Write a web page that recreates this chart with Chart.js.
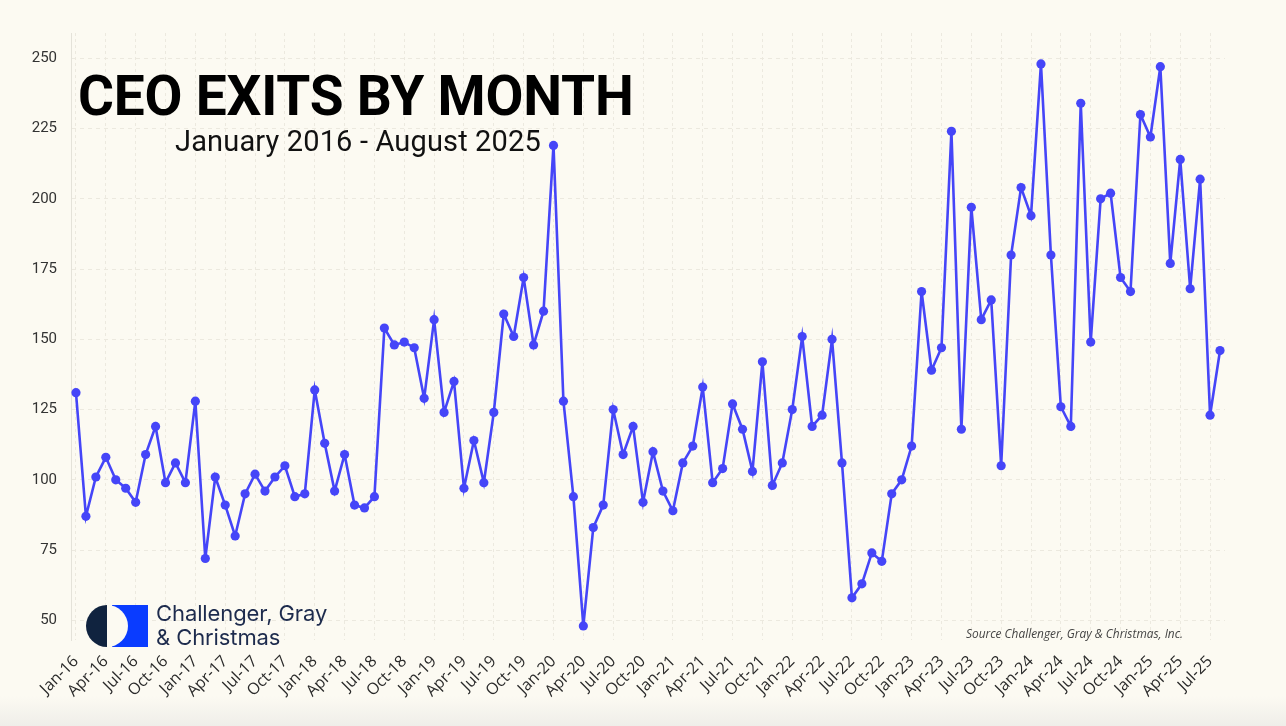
<!DOCTYPE html>
<html>
<head>
<meta charset="utf-8">
<script src="https://cdn.jsdelivr.net/npm/chart.js@4.4.1/dist/chart.umd.min.js"></script>
<style>
  html, body { margin:0; padding:0; }
  body {
    width:1286px; height:726px; overflow:hidden; position:relative;
    background: linear-gradient(to bottom, #FCFAF2 0px, #FCFAF2 696px, #EFEEE9 726px);
    font-family: Roboto, sans-serif;
  }
  #wrap { position:absolute; left:0; top:0; width:1286px; height:726px; }
  .title { position:absolute; left:78px; top:69px; font: 700 55px Roboto; line-height:55px; color:#000; white-space:nowrap; letter-spacing:-0.2px; }
  .subtitle { position:absolute; left:175px; top:127px; font: 400 29px Roboto; line-height:29px; color:#111; white-space:nowrap; letter-spacing:0.15px; }
  .source { position:absolute; left:966px; top:627px; font: italic 400 12px "Open Sans"; line-height:14px; color:#444; white-space:nowrap; transform:scaleX(0.99); transform-origin:left center; }
  .logo { position:absolute; left:86px; top:605px; }
  .logotext { position:absolute; left:156px; top:601px; font: 400 22px Inter; line-height:24px; color:#1D2B4D; white-space:nowrap; letter-spacing:-0.1px; }
</style>
</head>
<body>
<div id="wrap"><canvas id="c"></canvas></div>
<div class="title">CEO EXITS BY MONTH</div>
<div class="subtitle">January 2016 - August 2025</div>
<svg class="logo" width="63" height="42" viewBox="0 0 63 42">
  <rect x="26" y="0" width="36" height="42" fill="#0A3CFF"/>
  <path d="M21,0 A21,21 0 0,1 21,42 Z" fill="#FCFAF2"/>
  <path d="M21,0 A21,21 0 0,0 21,42 Z" fill="#10233F"/>
</svg>
<div class="logotext">Challenger, Gray<br>&amp; Christmas</div>
<div class="source">Source Challenger, Gray &amp; Christmas, Inc.</div>
<script>
const categories = [
  "Jan-16","Feb-16","Mar-16","Apr-16","May-16","Jun-16","Jul-16","Aug-16","Sep-16","Oct-16","Nov-16","Dec-16",
  "Jan-17","Feb-17","Mar-17","Apr-17","May-17","Jun-17","Jul-17","Aug-17","Sep-17","Oct-17","Nov-17","Dec-17",
  "Jan-18","Feb-18","Mar-18","Apr-18","May-18","Jun-18","Jul-18","Aug-18","Sep-18","Oct-18","Nov-18","Dec-18",
  "Jan-19","Feb-19","Mar-19","Apr-19","May-19","Jun-19","Jul-19","Aug-19","Sep-19","Oct-19","Nov-19","Dec-19",
  "Jan-20","Feb-20","Mar-20","Apr-20","May-20","Jun-20","Jul-20","Aug-20","Sep-20","Oct-20","Nov-20","Dec-20",
  "Jan-21","Feb-21","Mar-21","Apr-21","May-21","Jun-21","Jul-21","Aug-21","Sep-21","Oct-21","Nov-21","Dec-21",
  "Jan-22","Feb-22","Mar-22","Apr-22","May-22","Jun-22","Jul-22","Aug-22","Sep-22","Oct-22","Nov-22","Dec-22",
  "Jan-23","Feb-23","Mar-23","Apr-23","May-23","Jun-23","Jul-23","Aug-23","Sep-23","Oct-23","Nov-23","Dec-23",
  "Jan-24","Feb-24","Mar-24","Apr-24","May-24","Jun-24","Jul-24","Aug-24","Sep-24","Oct-24","Nov-24","Dec-24",
  "Jan-25","Feb-25","Mar-25","Apr-25","May-25","Jun-25","Jul-25","Aug-25"
];
const ceoExits = [
  131, 87,101,108,100, 97, 92,109,119, 99,106, 99,
  128, 72,101, 91, 80, 95,102, 96,101,105, 94, 95,
  132,113, 96,109, 91, 90, 94,154,148,149,147,129,
  157,124,135, 97,114, 99,124,159,151,172,148,160,
  219,128, 94, 48, 83, 91,125,109,119, 92,110, 96,
   89,106,112,133, 99,104,127,118,103,142, 98,106,
  125,151,119,123,150,106, 58, 63, 74, 71, 95,100,
  112,167,139,147,224,118,197,157,164,105,180,204,
  194,248,180,126,119,234,149,200,202,172,167,230,
  222,247,177,214,168,207,123,146
];
const yTickValues = [50, 75, 100, 125, 150, 175, 200, 225, 250];
const xLabelEvery = 3;

const gridColor = '#ECE9DF';
const lineColor = '#4545F8';

new Chart(document.getElementById('c'), {
  type: 'line',
  data: {
    labels: categories,
    datasets: [{
      data: ceoExits,
      borderColor: lineColor,
      backgroundColor: lineColor,
      borderWidth: 2.6,
      pointRadius: 4.6,
      pointBorderWidth: 0,
      pointBackgroundColor: lineColor,
      tension: 0,
      clip: false
    }]
  },
  options: {
    responsive: true,
    maintainAspectRatio: false,
    animation: false,
    layout: { padding: { top: 33, right: 61, left: 0, bottom: 0 } },
    plugins: { legend: { display: false }, tooltip: { enabled: false }, title: { display: false } },
    scales: {
      x: {
        type: 'category',
        offset: true,
        afterFit: s => { s.height = 86; },
        grid: {
          offset: false,
          drawTicks: false,
          color: ctx => (ctx.index % xLabelEvery === 0 ? gridColor : 'rgba(0,0,0,0)'),
          lineWidth: 1
        },
        border: { display: false, dash: [3, 3] },
        ticks: {
          autoSkip: false,
          minRotation: 45,
          maxRotation: 45,
          padding: 12,
          color: '#2a2a2a',
          font: { family: 'Open Sans', size: 16 },
          callback: (v, i) => (i % xLabelEvery === 0 ? categories[i] : '')
        }
      },
      y: {
        min: 43,
        max: 259,
        afterFit: s => { s.width = 71; },
        afterBuildTicks: s => { s.ticks = yTickValues.map(v => ({ value: v })); },
        grid: { color: gridColor, drawTicks: false, lineWidth: 1 },
        border: { display: true, color: '#E4E2D9', width: 1, dash: [4, 4] },
        ticks: {
          padding: 14,
          color: '#333',
          font: { family: 'Roboto', size: 15 }
        }
      }
    }
  }
});
</script>
</body>
</html>
